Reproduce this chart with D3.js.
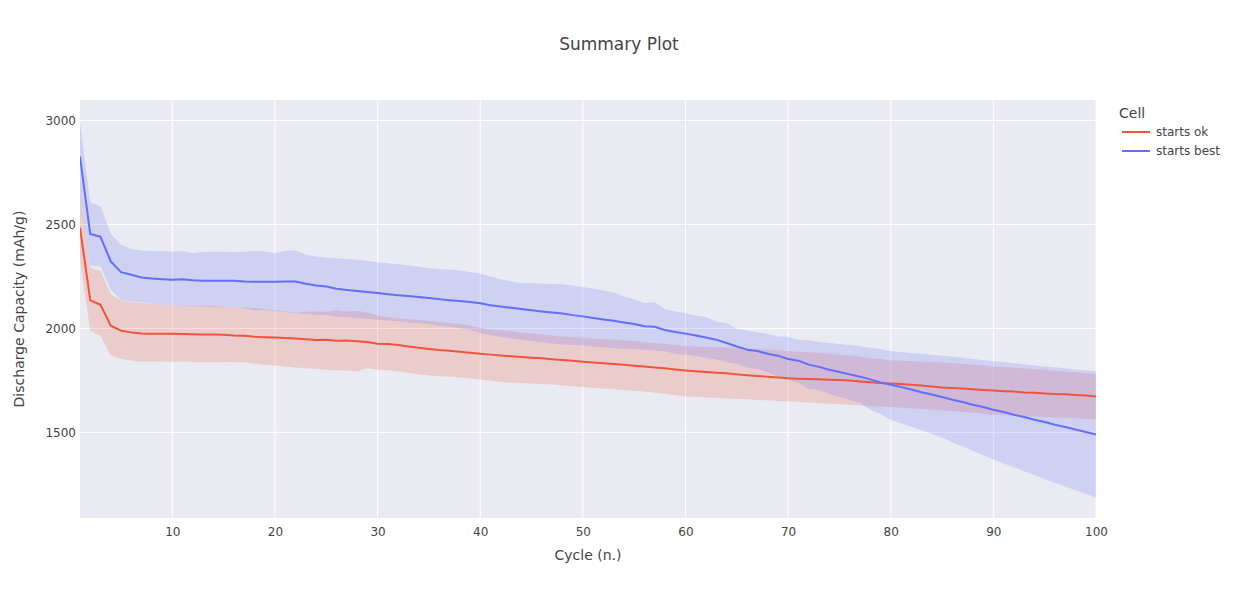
<!DOCTYPE html>
<html>
<head>
<meta charset="utf-8">
<script src="https://cdn.jsdelivr.net/npm/d3@7"></script>
<style>
  body { margin: 0; background: #fff; }
  text { font-family: Verdana, "DejaVu Sans", sans-serif; }
</style>
</head>
<body>
<div id="chart"></div>
<script>
// cycle numbers 1..100
const cycles = d3.range(1, 101);

// "starts ok" cell: mean and band edges (mAh/g)
const okMean = [2485,2135,2114,2013,1989,1981,1976,1974,1974,1974,1973,1972,1971,1971,1970,1966,1965,1960,1958,1956,
  1954,1951,1948,1944,1946,1941,1942,1938,1935,1926,1925,1920,1913,1907,1901,1896,1893,1888,1883,1878,
  1874,1870,1866,1862,1859,1856,1852,1848,1844,1840,1836,1832,1829,1825,1821,1817,1812,1808,1803,1798,
  1794,1790,1787,1784,1779,1775,1771,1768,1764,1760,1758,1757,1755,1753,1752,1749,1745,1741,1737,1735,
  1733,1729,1726,1721,1716,1713,1711,1707,1704,1701,1698,1696,1692,1690,1687,1684,1683,1680,1677,1673];
const okHi = [2650,2292,2276,2165,2135,2127,2122,2117,2115,2112,2113,2108,2110,2108,2104,2100,2100,2098,2094,2088,
  2082,2076,2080,2083,2080,2089,2081,2085,2077,2062,2053,2048,2045,2041,2036,2031,2026,2021,2014,2003,
  1995,1990,1986,1981,1976,1971,1966,1961,1958,1955,1952,1949,1946,1942,1938,1935,1930,1926,1920,1915,
  1913,1912,1910,1909,1906,1904,1901,1899,1895,1891,1888,1886,1883,1878,1874,1870,1865,1858,1853,1846,
  1844,1842,1840,1838,1837,1833,1829,1825,1821,1817,1814,1811,1807,1804,1801,1797,1793,1789,1786,1782];
const okLo = [2330,1986,1965,1869,1853,1846,1841,1841,1840,1840,1840,1839,1837,1837,1838,1838,1837,1830,1825,1822,
  1817,1812,1808,1805,1801,1799,1796,1794,1808,1801,1799,1794,1786,1779,1774,1771,1768,1765,1760,1754,
  1748,1742,1740,1737,1735,1733,1730,1726,1722,1718,1714,1711,1707,1704,1700,1696,1691,1686,1678,1673,
  1671,1668,1666,1663,1661,1659,1656,1654,1651,1648,1646,1643,1641,1638,1635,1632,1629,1626,1624,1622,
  1618,1615,1612,1609,1606,1602,1598,1594,1590,1585,1583,1581,1578,1576,1574,1572,1570,1568,1566,1564];

// "starts best" cell
const bestMean = [2827,2454,2441,2322,2271,2258,2245,2240,2237,2234,2237,2232,2229,2230,2230,2229,2226,2225,2225,2225,
  2226,2226,2215,2207,2202,2191,2185,2180,2175,2170,2165,2160,2156,2151,2146,2141,2136,2132,2127,2121,
  2112,2106,2099,2093,2087,2082,2077,2072,2064,2058,2050,2043,2037,2029,2021,2011,2008,1992,1983,1975,
  1966,1956,1946,1930,1913,1898,1891,1878,1869,1853,1845,1826,1815,1801,1790,1779,1768,1755,1740,1729,
  1718,1706,1693,1682,1670,1657,1646,1633,1622,1609,1598,1585,1574,1561,1550,1537,1526,1514,1502,1489];
const bestHi = [2990,2608,2587,2455,2402,2382,2375,2373,2371,2370,2371,2362,2368,2369,2369,2368,2369,2373,2370,2362,
  2375,2375,2354,2346,2341,2338,2334,2330,2325,2319,2314,2309,2303,2298,2290,2285,2283,2279,2272,2264,
  2250,2237,2226,2218,2217,2215,2214,2213,2207,2199,2191,2183,2173,2154,2141,2122,2125,2093,2082,2074,
  2061,2055,2032,2026,1998,1990,1981,1973,1961,1959,1946,1942,1935,1930,1925,1920,1915,1906,1901,1891,
  1887,1882,1878,1873,1869,1864,1859,1853,1848,1843,1838,1833,1828,1822,1817,1813,1808,1803,1799,1794];
const bestLo = [2640,2301,2298,2186,2138,2130,2125,2119,2116,2112,2110,2106,2106,2103,2102,2099,2096,2088,2090,2083,
  2078,2072,2070,2066,2064,2058,2054,2050,2046,2042,2038,2034,2030,2026,2020,2013,2008,2002,1992,1978,
  1968,1959,1952,1946,1939,1933,1928,1923,1920,1917,1914,1910,1906,1902,1900,1898,1894,1890,1878,1875,
  1869,1858,1850,1837,1830,1811,1805,1789,1769,1753,1737,1709,1705,1685,1670,1657,1641,1608,1588,1560,
  1544,1527,1510,1492,1474,1453,1432,1411,1390,1369,1350,1332,1313,1295,1276,1258,1240,1222,1203,1185];

const seriesNames = ["starts ok", "starts best"];
const seriesColors = ["#EF553B", "#636EFA"];
const xTicks = [10, 20, 30, 40, 50, 60, 70, 80, 90, 100];
const yTicks = [1500, 2000, 2500, 3000];

const W = 1238, H = 600;
const m = { l: 80, r: 142, t: 100, b: 82 };
const FONT = 'Verdana, "DejaVu Sans", sans-serif';

const svg = d3.select("#chart").append("svg")
  .attr("width", W).attr("height", H);

const x = d3.scaleLinear().domain([1, 100]).range([m.l, W - m.r]);
const y = d3.scaleLinear().domain([1088, 3099]).range([H - m.b, m.t]);

svg.append("rect")
  .attr("x", m.l).attr("y", m.t)
  .attr("width", W - m.r - m.l).attr("height", H - m.b - m.t)
  .attr("fill", "#EAEAF2");

// grid
svg.append("g").selectAll("line")
  .data(xTicks)
  .join("line")
  .attr("x1", d => x(d)).attr("x2", d => x(d))
  .attr("y1", m.t).attr("y2", H - m.b)
  .attr("stroke", "#fff").attr("stroke-width", 1);
svg.append("g").selectAll("line")
  .data(yTicks)
  .join("line")
  .attr("x1", m.l).attr("x2", W - m.r)
  .attr("y1", d => y(d)).attr("y2", d => y(d))
  .attr("stroke", "#fff").attr("stroke-width", 1);

const series = [
  { name: seriesNames[0], color: seriesColors[0], mean: okMean, hi: okHi, lo: okLo },
  { name: seriesNames[1], color: seriesColors[1], mean: bestMean, hi: bestHi, lo: bestLo }
];

svg.append("clipPath").attr("id", "clip")
  .append("rect")
  .attr("x", m.l).attr("y", m.t)
  .attr("width", W - m.r - m.l).attr("height", H - m.b - m.t);

const plot = svg.append("g").attr("clip-path", "url(#clip)");

const band = d3.area()
  .x((d, i) => x(cycles[i]))
  .y0(d => y(d[0]))
  .y1(d => y(d[1]));

const line = d3.line()
  .x((d, i) => x(cycles[i]))
  .y(d => y(d));

series.forEach(s => {
  plot.append("path")
    .datum(s.lo.map((v, i) => [v, s.hi[i]]))
    .attr("d", band)
    .attr("fill", s.color)
    .attr("fill-opacity", 0.2);
});

series.forEach(s => {
  plot.append("path")
    .datum(s.mean)
    .attr("d", line)
    .attr("fill", "none")
    .attr("stroke", s.color)
    .attr("stroke-width", 2)
    .attr("stroke-linejoin", "round");
});

// axes
const xAxis = svg.append("g")
  .attr("transform", `translate(0, ${H - m.b})`)
  .call(d3.axisBottom(x).tickValues(xTicks).tickSize(0).tickPadding(9));
const yAxis = svg.append("g")
  .attr("transform", `translate(${m.l}, 0)`)
  .call(d3.axisLeft(y).tickValues(yTicks).tickFormat(d3.format("d")).tickSize(0).tickPadding(4));
[xAxis, yAxis].forEach(a => {
  a.select(".domain").remove();
  a.selectAll("text")
    .attr("fill", "#444")
    .style("font-size", "12px")
    .style("font-family", FONT);
});

svg.append("text")
  .attr("x", W / 2).attr("y", 50)
  .attr("text-anchor", "middle")
  .attr("fill", "#444")
  .style("font-size", "17px")
  .text("Summary Plot");

svg.append("text")
  .attr("x", (m.l + W - m.r) / 2).attr("y", 560)
  .attr("text-anchor", "middle")
  .attr("fill", "#444")
  .style("font-size", "14px")
  .text("Cycle (n.)");

svg.append("text")
  .attr("transform", `translate(24, ${(m.t + H - m.b) / 2}) rotate(-90)`)
  .attr("text-anchor", "middle")
  .attr("fill", "#444")
  .style("font-size", "14px")
  .text("Discharge Capacity (mAh/g)");

// legend
const leg = svg.append("g").attr("transform", "translate(1119, 0)");
leg.append("text")
  .attr("x", 0).attr("y", 118)
  .attr("fill", "#444")
  .style("font-size", "14px")
  .text("Cell");
const items = leg.selectAll("g.item")
  .data(series)
  .join("g")
  .attr("class", "item")
  .attr("transform", (d, i) => `translate(0, ${132 + i * 19})`);
items.append("line")
  .attr("x1", 3).attr("x2", 31)
  .attr("stroke", d => d.color)
  .attr("stroke-width", 2);
items.append("text")
  .attr("x", 37).attr("y", 4)
  .attr("fill", "#444")
  .style("font-size", "12px")
  .text(d => d.name);
</script>
</body>
</html>
